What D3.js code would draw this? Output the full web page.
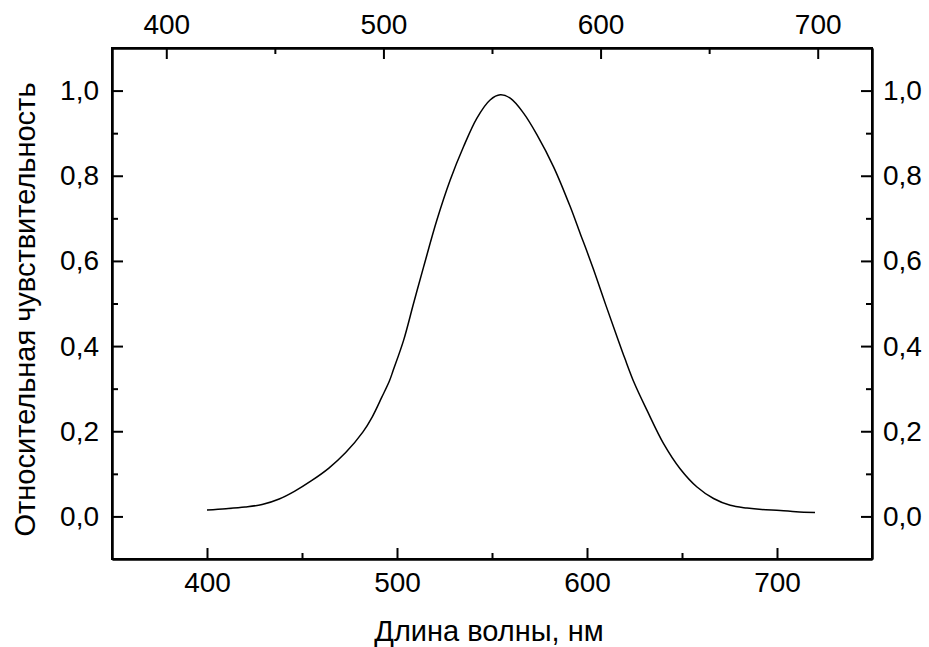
<!DOCTYPE html>
<html>
<head>
<meta charset="utf-8">
<script src="https://cdn.jsdelivr.net/npm/d3@7"></script>
<style>
  html, body { margin: 0; padding: 0; background: #fff; }
  svg { display: block; }
  text { font-family: "Liberation Sans", Arial, sans-serif; fill: #000; }
</style>
</head>
<body>
<svg id="chart" width="929" height="647"></svg>
<script>
// Wavelength (nm) and relative sensitivity
const wavelengths = [400, 410, 420, 429, 438, 446, 455, 464, 473, 482, 487, 492, 496, 498, 503.5, 508.7, 514, 521, 528, 535, 542, 549, 554.4, 559.6, 566.6, 573.7, 582.4, 591.2, 596.6, 600, 605, 610, 615, 620, 625, 631.6, 640.3, 649, 657.9, 666.6, 675.4, 684.2, 692, 701.7, 710, 720];
const sensitivity = [0.015, 0.018, 0.022, 0.028, 0.041, 0.059, 0.084, 0.113, 0.150, 0.198, 0.234, 0.280, 0.318, 0.343, 0.414, 0.500, 0.586, 0.696, 0.790, 0.868, 0.935, 0.978, 0.990, 0.982, 0.947, 0.896, 0.821, 0.727, 0.662, 0.622, 0.560, 0.495, 0.432, 0.370, 0.312, 0.249, 0.171, 0.112, 0.069, 0.042, 0.026, 0.0195, 0.016, 0.014, 0.011, 0.009];

const bottomTicks = [400, 500, 600, 700];
const bottomMinorTicks = [450, 550, 650];
const topTicks = [400, 500, 600, 700];
const topMinorTicks = [450, 550, 650];
const yTicks = [0, 0.2, 0.4, 0.6, 0.8, 1.0];
const yMinorTicks = [0.1, 0.3, 0.5, 0.7, 0.9];

const xLabel = "Длина волны, нм";
const yLabel = "Относительная чувствительность";

const svg = d3.select("#chart");
const L = 112, R = 872, T = 48, B = 559;

const x = d3.scaleLinear().domain([350, 750]).range([L, R]);
const xTop = d3.scaleLinear().domain([375, 725]).range([L, R]);
const y = d3.scaleLinear().domain([-0.1, 1.1]).range([B, T]);

const fmtY = v => d3.format(".1f")(v).replace(".", ",");
const major = 11, minor = 6, fs = 28;

function styleAxis(g) {
  g.selectAll("path.domain").attr("stroke", "#000").attr("stroke-width", 2);
  g.selectAll(".tick line").attr("stroke", "#000").attr("stroke-width", 2);
  g.selectAll(".tick text").attr("font-size", fs).attr("font-family", "Liberation Sans, Arial, sans-serif").attr("fill", "#000");
}

// bottom
svg.append("g").attr("transform", `translate(0,${B})`)
  .call(d3.axisBottom(x).tickValues(bottomTicks).tickSize(-major).tickSizeOuter(0).tickPadding(13).tickFormat(d3.format("d")))
  .call(styleAxis);
svg.append("g").attr("transform", `translate(0,${B})`)
  .call(d3.axisBottom(x).tickValues(bottomMinorTicks).tickSize(-minor).tickSizeOuter(0).tickFormat(""))
  .call(styleAxis);
// top
svg.append("g").attr("transform", `translate(0,${T})`)
  .call(d3.axisTop(xTop).tickValues(topTicks).tickSize(-major).tickSizeOuter(0).tickPadding(14).tickFormat(d3.format("d")))
  .call(styleAxis);
svg.append("g").attr("transform", `translate(0,${T})`)
  .call(d3.axisTop(xTop).tickValues(topMinorTicks).tickSize(-minor).tickSizeOuter(0).tickFormat(""))
  .call(styleAxis);
// left
svg.append("g").attr("transform", `translate(${L},0)`)
  .call(d3.axisLeft(y).tickValues(yTicks).tickSize(-major).tickSizeOuter(0).tickPadding(13).tickFormat(fmtY))
  .call(styleAxis);
svg.append("g").attr("transform", `translate(${L},0)`)
  .call(d3.axisLeft(y).tickValues(yMinorTicks).tickSize(-minor).tickSizeOuter(0).tickFormat(""))
  .call(styleAxis);
// right
svg.append("g").attr("transform", `translate(${R},0)`)
  .call(d3.axisRight(y).tickValues(yTicks).tickSize(-major).tickSizeOuter(0).tickPadding(11).tickFormat(fmtY))
  .call(styleAxis);
svg.append("g").attr("transform", `translate(${R},0)`)
  .call(d3.axisRight(y).tickValues(yMinorTicks).tickSize(-minor).tickSizeOuter(0).tickFormat(""))
  .call(styleAxis);

// frame
svg.append("rect").attr("x", L).attr("y", T).attr("width", R - L).attr("height", B - T)
  .attr("fill", "none").attr("stroke", "#000").attr("stroke-width", 2);

// curve
const data = wavelengths.map((w, i) => [w, sensitivity[i]]);
svg.append("path").datum(data)
  .attr("fill", "none").attr("stroke", "#000").attr("stroke-width", 1.5)
  .attr("d", d3.line().x(d => x(d[0])).y(d => y(d[1])).curve(d3.curveCatmullRom.alpha(0.5)));

// labels
svg.append("text").attr("x", 489).attr("y", 641)
  .attr("text-anchor", "middle").attr("font-size", 29).text(xLabel);
svg.append("text").attr("transform", `translate(35,${(T + B) / 2 + 6}) rotate(-90)`)
  .attr("text-anchor", "middle").attr("font-size", 29).text(yLabel);
</script>
</body>
</html>
